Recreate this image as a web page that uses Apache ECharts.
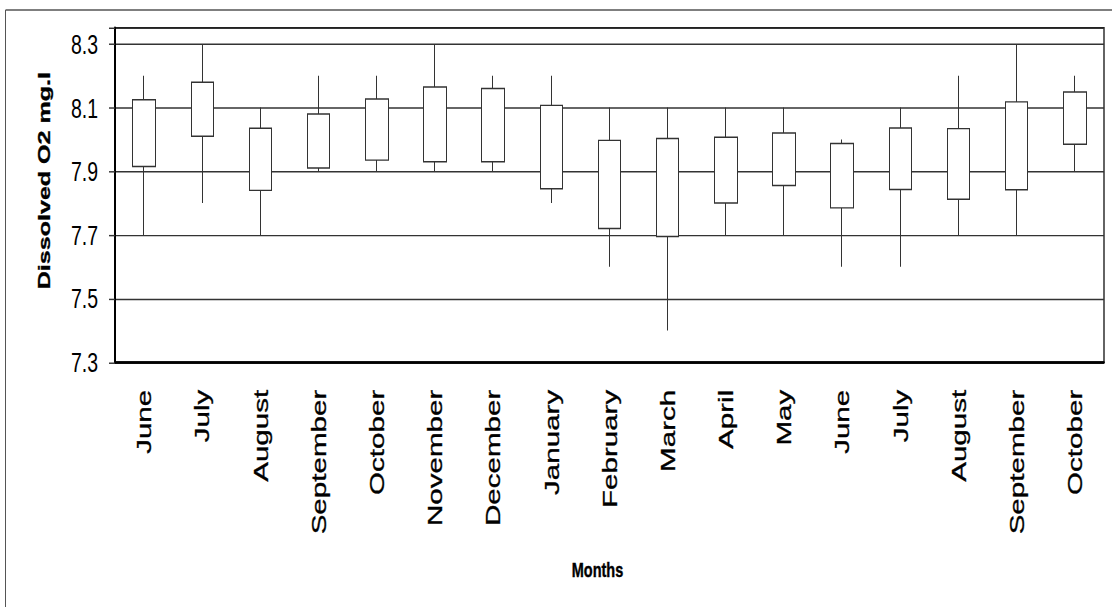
<!DOCTYPE html>
<html>
<head>
<meta charset="utf-8">
<script src="https://cdn.jsdelivr.net/npm/echarts@6/dist/echarts.min.js"></script>
<style>
  html, body { margin: 0; padding: 0; background: #fff; width: 1112px; height: 607px; }
  /* the chart is drawn at a reduced height and stretched vertically, giving tall lettering */
  #chart { width: 1112px; height: 418.62px; transform: scaleY(1.45); transform-origin: 0 0; }
</style>
</head>
<body>
<div id="chart"></div>
<script>
// Monthly dissolved oxygen (mg/l): daily range and interquartile box
const months = ['June', 'July', 'August', 'September', 'October', 'November', 'December',
  'January', 'February', 'March', 'April', 'May', 'June', 'July', 'August', 'September', 'October'];
const lows    = [7.7, 7.8, 7.7, 7.9, 7.9, 7.9, 7.9, 7.8, 7.6, 7.4, 7.7, 7.7, 7.6, 7.6, 7.7, 7.7, 7.9];
const boxLow  = [7.915, 8.01, 7.84, 7.91, 7.935, 7.93, 7.93, 7.845, 7.72, 7.695, 7.8, 7.855, 7.785, 7.843, 7.812, 7.842, 7.985];
const boxHigh = [8.125, 8.18, 8.035, 8.08, 8.127, 8.165, 8.16, 8.107, 7.997, 8.003, 8.007, 8.02, 7.987, 8.036, 8.034, 8.118, 8.149];
const highs   = [8.2, 8.3, 8.1, 8.2, 8.2, 8.3, 8.2, 8.2, 8.1, 8.1, 8.1, 8.1, 8.0, 8.1, 8.2, 8.3, 8.2];
const yTicks  = [7.3, 7.5, 7.7, 7.9, 8.1, 8.3];

const FONT = "'Liberation Sans', Arial, sans-serif";
const candles = months.map((m, i) => [boxLow[i], boxHigh[i], lows[i], highs[i]]);

const chart = echarts.init(document.getElementById('chart'), null, { renderer: 'svg' });
chart.setOption({
  animation: false,
  backgroundColor: '#fff',
  grid: { left: 115, right: 8, top: 19.35, bottom: 169.2, show: true, borderColor: '#111', borderWidth: 1.3 },
  xAxis: [{
    type: 'category',
    data: months,
    boundaryGap: true,
    axisLine: { lineStyle: { color: '#000', width: 1.6 } },
    axisTick: { length: 6, lineStyle: { color: '#333', width: 1 } },
    axisLabel: {
      rotate: 90, margin: 19, fontSize: 20.4, color: '#000', fontFamily: FONT, interval: 0,
      textBorderColor: '#000', textBorderWidth: 0.3
    },
    name: 'Months',
    nameLocation: 'middle',
    nameGap: 136,
    nameTextStyle: {
      fontSize: 14.5, fontWeight: 'bold', color: '#000', fontFamily: FONT, verticalAlign: 'top',
      padding: [0, 24, 0, 0], textBorderColor: '#000', textBorderWidth: 0.3
    }
  }, {
    type: 'category',
    data: months,
    position: 'bottom',
    boundaryGap: true,
    axisLine: { show: false },
    axisTick: { inside: true, length: 6, lineStyle: { color: '#333', width: 1 } },
    axisLabel: { show: false }
  }],
  yAxis: {
    type: 'value',
    min: 7.3,
    max: 8.35,
    interval: 0.2,
    axisLine: { show: true, lineStyle: { color: '#000', width: 2 } },
    axisTick: { show: true, length: 6, lineStyle: { color: '#333' } },
    splitLine: { lineStyle: { color: '#333', width: 1 } },
    axisLabel: {
      margin: 17, fontSize: 19.5, color: '#000', fontFamily: FONT,
      formatter: v => {
        const t = yTicks.find(k => Math.abs(k - v) < 1e-6);
        return t === undefined ? '' : t.toFixed(1);
      }
    },
    name: 'Dissolved O2 mg.l',
    nameLocation: 'middle',
    nameGap: 62,
    nameTextStyle: {
      fontSize: 17.3, fontWeight: 'bold', color: '#000', fontFamily: FONT, padding: [0, 0, 0, 20],
      textBorderColor: '#000', textBorderWidth: 0.3
    }
  },
  graphic: [
    { type: 'line', shape: { x1: 5.5, y1: 6.9, x2: 1112, y2: 6.9 }, style: { stroke: '#555', lineWidth: 1 }, silent: true },
    { type: 'line', shape: { x1: 5.5, y1: 6.9, x2: 5.5, y2: 418.62 }, style: { stroke: '#555', lineWidth: 1 }, silent: true }
  ],
  series: [{
    type: 'candlestick',
    data: candles,
    barWidth: 23,
    itemStyle: {
      color: '#fff', color0: '#fff',
      borderColor: '#333', borderColor0: '#333', borderWidth: 1
    }
  }]
});
</script>
</body>
</html>
